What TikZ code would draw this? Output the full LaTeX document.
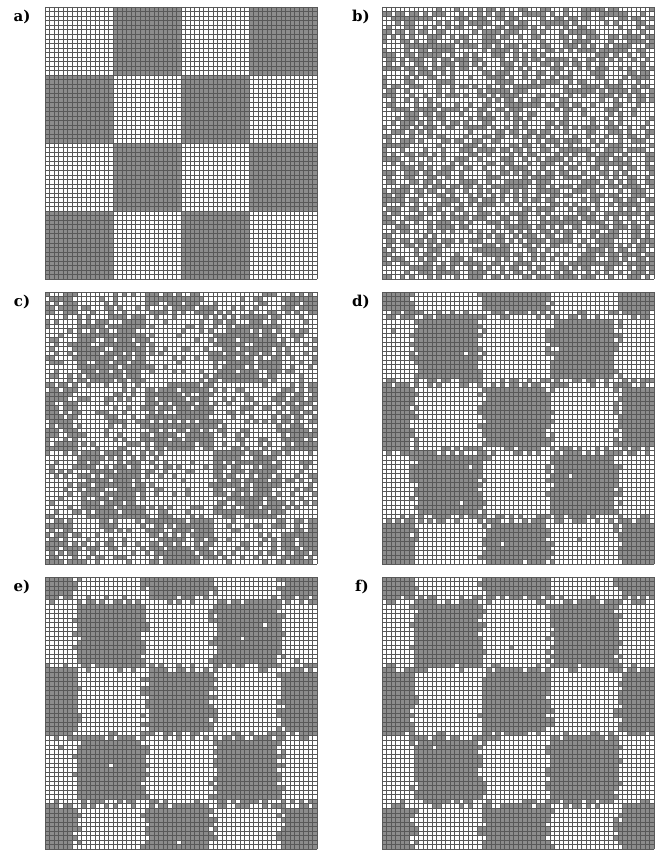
\documentclass[tikz,border=0pt]{standalone}
\usepackage{fontspec}
\setmainfont{DejaVu Serif}
\definecolor{cellgray}{RGB}{140, 140, 140}
\definecolor{linegray}{RGB}{88, 88, 88}
\tikzset{
  cellfill/.style={fill=cellgray},
  gridline/.style={draw=linegray, line width=0.45pt},
  panellabel/.style={font=\bfseries\fontsize{15}{15}\selectfont, inner sep=0pt},
}

% grid lines of a 60x60 panel
\newcommand{\panelgrid}{%
  \draw[gridline] \foreach \k in {0,...,60} {(\k,0) -- (\k,60) (0,\k) -- (60,\k)};}

% checkerboard of 15x15 blocks, shifted by (8,10) cells
\newcommand{\shiftedchecker}{%
  \begin{scope}
    \clip (0,0) rectangle (60,60);
    \foreach \px in {0,...,4} \foreach \py in {0,...,4} {
      \pgfmathtruncatemacro{\parity}{mod(\px+\py,2)}
      \ifnum\parity=0 \fill[cellfill] ({15*\px-8},{15*\py-10}) rectangle ++(15,15);\fi
    }
  \end{scope}}

% turn one cell of the shifted checkerboard to the other colour
\newcommand{\flipcell}[2]{%
  \pgfmathtruncatemacro{\bd}{mod(floor((#1+8)/15)+floor((#2+10)/15),2)}%
  \ifnum\bd=0 \fill[white] (#1,#2) rectangle ++(1,1);%
  \else \fill[cellfill] (#1,#2) rectangle ++(1,1);\fi}

% ragged block edges (#1 = flip chance) and stray cells (#2 = count)
\newcommand{\edgenoise}[2]{%
  \foreach \b in {7,22,37,52} \foreach \j in {0,...,59} {
    \pgfmathtruncatemacro{\il}{\b-1}
    \pgfmathtruncatemacro{\fl}{rnd<#1}
    \ifnum\fl=1 \flipcell{\il}{\j}\fi
    \pgfmathtruncatemacro{\fl}{rnd<#1}
    \ifnum\fl=1 \flipcell{\b}{\j}\fi
  }
  \foreach \b in {5,20,35,50} \foreach \i in {0,...,59} {
    \pgfmathtruncatemacro{\jl}{\b-1}
    \pgfmathtruncatemacro{\fl}{rnd<#1}
    \ifnum\fl=1 \flipcell{\i}{\jl}\fi
    \pgfmathtruncatemacro{\fl}{rnd<#1}
    \ifnum\fl=1 \flipcell{\i}{\b}\fi
  }
  \foreach \n in {1,...,#2} {
    \pgfmathrandominteger{\ri}{0}{59}
    \pgfmathrandominteger{\rj}{0}{59}
    \flipcell{\ri}{\rj}
  }}

\begin{document}
\begin{tikzpicture}[x=1pt, y=-1pt]
  \pgfmathsetseed{17}
  \useasboundingbox (0,0) rectangle (662,850);

  % Panel a: clean checkerboard
  \begin{scope}[shift={(45,7)}, scale=4.5333]
    \foreach \bx in {0,...,3} \foreach \by in {0,...,3} {
      \pgfmathtruncatemacro{\parity}{mod(\bx+\by,2)}
      \ifnum\parity=1 \fill[cellfill] (15*\bx,15*\by) rectangle ++(15,15);\fi
    }
    \panelgrid
  \end{scope}

  % Panel b: random cells
  \begin{scope}[shift={(382,7)}, scale=4.5333]
    \foreach \i in {0,...,59} \foreach \j in {0,...,59} {
      \pgfmathtruncatemacro{\on}{rnd<0.48}
      \ifnum\on=1 \fill[cellfill] (\i,\j) rectangle ++(1,1);\fi
    }
    \panelgrid
  \end{scope}

  % Panel c: noisy shifted checkerboard
  \begin{scope}[shift={(45,292)}, scale=4.5333]
    \foreach \i in {0,...,59} \foreach \j in {0,...,59} {
      \pgfmathsetmacro{\pp}{ifthenelse(mod(floor((\i+8)/15)+floor((\j+10)/15),2)==0,0.74,0.22)}
      \pgfmathtruncatemacro{\on}{rnd<\pp}
      \ifnum\on=1 \fill[cellfill] (\i,\j) rectangle ++(1,1);\fi
    }
    \panelgrid
  \end{scope}

  % Panel d
  \begin{scope}[shift={(382,292)}, scale=4.5333]
    \shiftedchecker
    \edgenoise{0.38}{16}
    \panelgrid
  \end{scope}

  % Panel e
  \begin{scope}[shift={(45,577)}, scale=4.5333]
    \shiftedchecker
    \edgenoise{0.28}{6}
    \panelgrid
  \end{scope}

  % Panel f
  \begin{scope}[shift={(382,577)}, scale=4.5333]
    \shiftedchecker
    \edgenoise{0.2}{4}
    \panelgrid
  \end{scope}

  % Labels
  \node[panellabel] (labela) at (22,17) {a)};
  \node[panellabel] (labelb) at (361,17) {b)};
  \node[panellabel] (labelc) at (22,302) {c)};
  \node[panellabel] (labeld) at (361,302) {d)};
  \node[panellabel] (labele) at (22,587) {e)};
  \node[panellabel] (labelf) at (362,587) {f)};
\end{tikzpicture}
\end{document}
